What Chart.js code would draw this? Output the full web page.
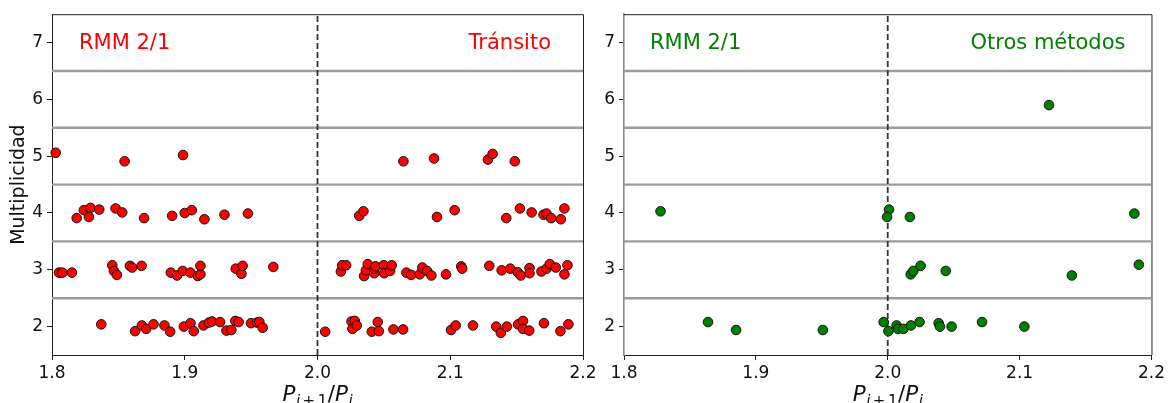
<!DOCTYPE html>
<html>
<head>
<meta charset="utf-8">
<script src="https://cdn.jsdelivr.net/npm/chart.js@4.4.0/dist/chart.umd.min.js"></script>
<style>
  html, body { margin: 0; padding: 0; background: #fff; }
  #wrap { position: relative; width: 1168px; height: 403px; overflow: hidden; }
  canvas { position: absolute; top: 0; }
  #left { left: 0; }
  #right { left: 590px; }
</style>
</head>
<body>
<div id="wrap">
  <canvas id="left" width="600" height="403"></canvas>
  <canvas id="right" width="578" height="403"></canvas>
</div>
<script>
// Period ratio P(i+1)/P(i) and system multiplicity for planet pairs near the 2:1 MMR
const transitRatio = [
  1.8028, 1.8547, 1.8987, 2.0647, 2.0878, 2.1284, 2.1319, 2.1486,
  1.8186, 1.8240, 1.8290, 1.8278, 1.8356, 1.8479, 1.8529, 1.8694, 1.8905, 1.9000, 1.9053, 1.9148, 1.9299, 1.9476,
  2.0314, 2.0346, 2.0900, 2.1033, 2.1422, 2.1525, 2.1613, 2.1703, 2.1725, 2.1760, 2.1833, 2.1860,
  1.8053, 1.8078, 1.8150, 1.8454, 1.8466, 1.8489, 1.8587, 1.8604, 1.8675, 1.8895, 1.8942, 1.8985, 1.9043, 1.9098,
  1.9118, 1.9118, 1.9384, 1.9427, 1.9436, 1.9667,
  2.0176, 2.0186, 2.0216, 2.0351, 2.0364, 2.0379, 2.0427, 2.0429, 2.0437, 2.0499, 2.0502, 2.0547, 2.0559, 2.0670,
  2.0705, 2.0770, 2.0790, 2.0825, 2.0858, 2.0968, 2.1083, 2.1090, 2.1294, 2.1387, 2.1452, 2.1507, 2.1530, 2.1597,
  2.1597, 2.1687, 2.1725, 2.1750, 2.1795, 2.1860, 2.1883,
  1.8371, 1.8626, 1.8677, 1.8709, 1.8765, 1.8847, 1.8890, 1.8993, 1.9043, 1.9068, 1.9141, 1.9181, 1.9206, 1.9266,
  1.9314, 1.9351, 1.9381, 1.9406, 1.9499, 1.9544, 1.9562, 1.9587,
  2.0058, 2.0256, 2.0263, 2.0281, 2.0296, 2.0409, 2.0454, 2.0462, 2.0572, 2.0645, 2.1006, 2.1041, 2.1171, 2.1346,
  2.1381, 2.1426, 2.1511, 2.1548, 2.1548, 2.1595, 2.1706, 2.1830, 2.1890
];
const transitMult = [
  5.06, 4.91, 5.02, 4.91, 4.96, 4.94, 5.04, 4.91,
  3.91, 4.05, 4.09, 3.93, 4.06, 4.08, 4.01, 3.91, 3.95, 4.00, 4.05, 3.89, 3.97, 3.99,
  3.95, 4.03, 3.93, 4.05, 3.91, 4.08, 4.01, 3.97, 3.99, 3.91, 3.89, 4.08,
  2.95, 2.95, 2.95, 3.08, 2.98, 2.91, 3.07, 3.04, 3.07, 2.95, 2.90, 2.98, 2.95, 2.89,
  2.92, 3.07, 3.02, 2.93, 3.07, 3.05,
  2.97, 3.08, 3.08, 2.89, 2.99, 3.10, 2.94, 3.02, 3.06, 3.08, 2.94, 2.98, 3.08, 2.95,
  2.91, 2.92, 3.04, 2.98, 2.90, 2.92, 3.06, 3.02, 3.07, 2.99, 3.02, 2.96, 2.90, 3.03,
  2.94, 2.97, 3.02, 3.10, 3.04, 2.92, 3.08,
  2.04, 1.92, 2.02, 1.96, 2.04, 2.02, 1.91, 2.00, 2.06, 1.92, 2.02, 2.07, 2.09, 2.08,
  1.93, 1.94, 2.10, 2.08, 2.06, 2.07, 2.08, 1.98,
  1.91, 2.09, 1.96, 2.10, 2.02, 1.91, 2.08, 1.92, 1.95, 1.95, 1.94, 2.02, 2.02, 2.00,
  1.89, 2.00, 2.04, 2.10, 1.96, 1.93, 2.06, 1.92, 2.04
];

const otherRatio = [
  2.1223,
  1.8277, 2.0010, 1.9995, 2.0168, 2.1870,
  2.0174, 2.0194, 2.0249, 2.0440, 2.1396, 2.1904,
  1.8637, 1.8850, 1.9508, 1.9969, 2.0005, 2.0067, 2.0078, 2.0119, 2.0176, 2.0241, 2.0386, 2.0396, 2.0484, 2.0715, 2.1036
];
const otherMult = [
  5.90,
  4.03, 4.06, 3.93, 3.93, 3.99,
  2.92, 2.98, 3.07, 2.98, 2.90, 3.09,
  2.08, 1.94, 1.94, 2.08, 1.92, 2.02, 1.96, 1.96, 2.02, 2.08, 2.06, 2.00, 2.00, 2.08, 2.00
];

const xTicks = [1.8, 1.9, 2.0, 2.1, 2.2];
const yTicks = [2, 3, 4, 5, 6, 7];
const multiplicityBands = [2.5, 3.5, 4.5, 5.5, 6.5];
const resonanceRatio = 2.0;

const X_MIN = 1.8, X_MAX = 2.2, Y_MIN = 1.5, Y_MAX = 7.5;
const FONT = "'DejaVu Sans', 'Liberation Sans', sans-serif";
const TEXT = '#111';
const SPINE = '#222';

function toPoints(xs, ys) {
  return xs.map((x, i) => ({ x: x, y: ys[i] }));
}

function frameLines() {
  const sets = multiplicityBands.map(b => ({
    type: 'line',
    data: [{ x: X_MIN, y: b }, { x: X_MAX, y: b }],
    borderColor: '#9c9c9c',
    borderWidth: 2.4,
    pointRadius: 0,
    order: 2
  }));
  sets.push({
    type: 'line',
    data: [{ x: resonanceRatio, y: Y_MIN }, { x: resonanceRatio, y: Y_MAX }],
    borderColor: '#333',
    borderWidth: 1.8,
    borderDash: [6, 3],
    pointRadius: 0,
    order: 1
  });
  return sets;
}

// top/right spines of the axes box
const boxPlugin = {
  id: 'box',
  beforeDatasetsDraw(chart) {
    const a = chart.chartArea, ctx = chart.ctx;
    ctx.save();
    ctx.strokeStyle = SPINE;
    ctx.lineWidth = 1;
    ctx.beginPath();
    ctx.moveTo(a.left, a.top + 0.5);
    ctx.lineTo(a.right + 0.5, a.top + 0.5);
    ctx.lineTo(a.right + 0.5, a.bottom);
    ctx.stroke();
    ctx.restore();
  }
};

// corner labels and the P_{i+1}/P_i axis label
const labelPlugin = {
  id: 'labels',
  afterDraw(chart, args, opts) {
    const a = chart.chartArea, ctx = chart.ctx;
    ctx.save();
    ctx.textBaseline = 'alphabetic';
    ctx.font = `21px ${FONT}`;
    ctx.fillStyle = opts.color;
    ctx.textAlign = 'left';
    ctx.fillText(opts.leftText, a.left + opts.leftInset, a.top + 35);
    ctx.textAlign = 'right';
    ctx.fillText(opts.rightText, a.right - opts.rightInset, a.top + 35);

    // math-style x label: P_{i+1}/P_i
    const big = 21.5, small = 15, sub = 4.5;
    const parts = [
      { t: 'P', s: big, it: true, dy: 0, gap: 0.5 },
      { t: 'i', s: small, it: true, dy: sub, gap: 2.5 },
      { t: '+', s: small, it: false, dy: sub, gap: 2.5 },
      { t: '1', s: small, it: false, dy: sub, gap: 0.5 },
      { t: '/', s: big, it: false, dy: 0, gap: 0 },
      { t: 'P', s: big, it: true, dy: 0, gap: 0.5 },
      { t: 'i', s: small, it: true, dy: sub, gap: 0 }
    ];
    let total = 0;
    parts.forEach(p => {
      ctx.font = `${p.it ? 'italic ' : ''}${p.s}px ${FONT}`;
      p.w = ctx.measureText(p.t).width;
      total += p.w + p.gap;
    });
    let x = (a.left + a.right) / 2 - total / 2;
    const base = 401;
    ctx.fillStyle = TEXT;
    ctx.textAlign = 'left';
    parts.forEach(p => {
      ctx.font = `${p.it ? 'italic ' : ''}${p.s}px ${FONT}`;
      ctx.fillText(p.t, x, base + p.dy);
      x += p.w + p.gap;
    });
    ctx.restore();
  }
};

function makePanel(canvasId, xs, ys, color, cfg) {
  const datasets = [{
    type: 'scatter',
    data: toPoints(xs, ys),
    backgroundColor: color,
    borderColor: '#111',
    borderWidth: 1,
    pointRadius: 4.8,
    pointHoverRadius: 4.8,
    order: 0
  }].concat(frameLines());

  return new Chart(document.getElementById(canvasId), {
    type: 'scatter',
    data: { datasets: datasets },
    plugins: [boxPlugin, labelPlugin],
    options: {
      responsive: false,
      animation: false,
      events: [],
      clip: false,
      layout: { padding: { left: 0, top: 13, right: cfg.padRight, bottom: 0 } },
      plugins: {
        legend: { display: false },
        tooltip: { enabled: false },
        labels: cfg.labels
      },
      datasets: { scatter: { clip: false }, line: { clip: false } },
      scales: {
        x: {
          type: 'linear',
          min: X_MIN, max: X_MAX,
          afterBuildTicks: s => { s.ticks = xTicks.map(v => ({ value: v })); },
          afterFit: s => { s.height = 48; },
          ticks: {
            font: { family: FONT, size: 17 },
            color: TEXT,
            padding: 3,
            callback: v => Number(v).toFixed(1)
          },
          grid: { drawOnChartArea: false, drawTicks: true, tickLength: 5, color: SPINE, lineWidth: 1 },
          border: { display: true, color: SPINE, width: 1 }
        },
        y: {
          type: 'linear',
          min: Y_MIN, max: Y_MAX,
          afterBuildTicks: s => { s.ticks = yTicks.map(v => ({ value: v })); },
          afterFit: s => { s.width = cfg.yWidth; },
          ticks: {
            font: { family: FONT, size: 17 },
            color: TEXT,
            padding: 4,
            callback: v => String(v)
          },
          grid: { drawOnChartArea: false, drawTicks: true, tickLength: 5, color: SPINE, lineWidth: 1 },
          border: { display: true, color: cfg.leftSpine, width: cfg.leftSpineWidth },
          title: {
            display: cfg.yTitle,
            text: 'Multiplicidad',
            font: { family: FONT, size: 19 },
            color: TEXT,
            padding: { top: 8, bottom: 0 }
          }
        }
      }
    }
  });
}

makePanel('left', transitRatio, transitMult, '#ff0000', {
  padRight: 17, yWidth: 52, yTitle: true, leftSpine: SPINE, leftSpineWidth: 1,
  labels: { color: '#ff0000', leftText: 'RMM 2/1', rightText: 'Tránsito', leftInset: 27, rightInset: 32 }
});

makePanel('right', otherRatio, otherMult, '#008000', {
  padRight: 14, yWidth: 34, yTitle: false, leftSpine: '#8a8a8a', leftSpineWidth: 1.6,
  labels: { color: '#008000', leftText: 'RMM 2/1', rightText: 'Otros métodos', leftInset: 26, rightInset: 26 }
});
</script>
</body>
</html>
